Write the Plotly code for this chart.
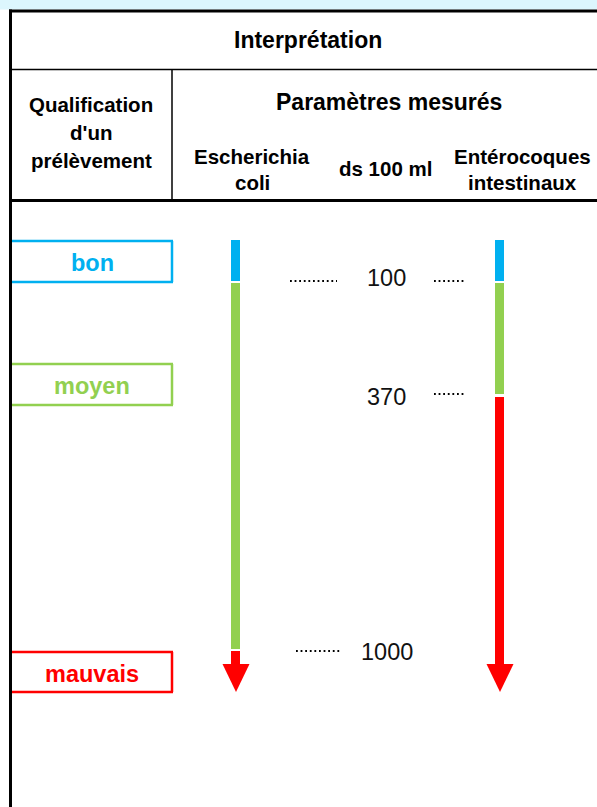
import plotly.graph_objects as go

# ---------------- data ----------------
title = "Interprétation"
left_header = ["Qualification", "d'un", "prélèvement"]
params_header = "Paramètres mesurés"
param_names = [["Escherichia", "coli"], ["Entérocoques", "intestinaux"]]
unit_label = "ds 100 ml"
qualifications = ["bon", "moyen", "mauvais"]
thresholds = ["100", "370", "1000"]
# category of each segment per parameter (top to bottom)
ecoli_segments = ["bon", "moyen", "mauvais"]
entero_segments = ["bon", "moyen", "mauvais"]

# ---------------- layout constants (pixel space) ----------------
W, H = 597, 807
colors = {"bon": "#00b0f0", "moyen": "#92d050", "mauvais": "#ff0000"}
FONT = "Liberation Sans, Arial, sans-serif"

box_y = {"bon": (241, 282), "moyen": (364, 405), "mauvais": (652, 692)}
ecoli_seg_y = [(240, 281), (283, 649), (651, 666)]
entero_seg_y = [(240, 281), (283, 394), (397, 666)]
bar_x = {"ecoli": (231, 240), "entero": (495, 504)}
arrow_tip = 692
arrow_half = 13.5
arrow_top = 664
thr_text_y = [278, 397, 652]
thr_text_x = [386, 386, 387]
dots = [[(290, 337, 281), (434, 464, 281)], [(434, 466, 394)], [(296, 342, 651)]]

fig = go.Figure()
shapes = []
ann = []

# top patterned strip
shapes.append(dict(type="rect", x0=0, x1=W, y0=0, y1=9.5, fillcolor="#dcf6fd",
                   line=dict(width=0), layer="below"))
# table lines
shapes.append(dict(type="line", x0=9, x1=W, y0=11, y1=11, line=dict(color="black", width=3)))
shapes.append(dict(type="line", x0=10.5, x1=10.5, y0=9.5, y1=H, line=dict(color="black", width=3)))
shapes.append(dict(type="line", x0=10, x1=W, y0=69.5, y1=69.5, line=dict(color="black", width=1.5)))
shapes.append(dict(type="line", x0=172, x1=172, y0=70, y1=200, line=dict(color="black", width=1.5)))
shapes.append(dict(type="line", x0=10, x1=W, y0=200.5, y1=200.5, line=dict(color="black", width=3)))

# header texts
def txt(x, y, s, size, bold=True, color="black"):
    ann.append(dict(x=x, y=y, xref="x", yref="y", text=f"<b>{s}</b>" if bold else s,
                    showarrow=False, font=dict(family=FONT, size=size, color=color),
                    xanchor="center", yanchor="middle"))

txt(308, 40, title, 23)
for i, line in enumerate(left_header):
    txt(91, 104.5 + i * 28, line, 20.5)
txt(389, 102, params_header, 23)
txt(252, 156, param_names[0][0], 20.5)
txt(252, 182, param_names[0][1], 20.5)
txt(385, 168, unit_label, 20.5)
txt(522, 156, param_names[1][0], 20.5)
txt(522, 182, param_names[1][1], 20.5)

# qualification boxes
for q in qualifications:
    y0, y1 = box_y[q]
    c = colors[q]
    shapes.append(dict(type="line", x0=12, x1=173, y0=y0, y1=y0, line=dict(color=c, width=2.5)))
    shapes.append(dict(type="line", x0=12, x1=173, y0=y1, y1=y1, line=dict(color=c, width=2.5)))
    shapes.append(dict(type="line", x0=172, x1=172, y0=y0, y1=y1, line=dict(color=c, width=2.5)))
    txt(92, (y0 + y1) / 2 + 1.5, q, 23.5, color=c)

# bars
for key, segs, ys in [("ecoli", ecoli_segments, ecoli_seg_y), ("entero", entero_segments, entero_seg_y)]:
    x0, x1 = bar_x[key]
    for s, (y0, y1) in zip(segs, ys):
        fig.add_trace(go.Scatter(x=[x0, x1, x1, x0, x0], y=[y0, y0, y1, y1, y0], fill="toself",
                                 fillcolor=colors[s], line=dict(width=0), mode="lines",
                                 hoverinfo="skip", showlegend=False))
    xc = (x0 + x1) / 2 + 0.5
    fig.add_trace(go.Scatter(x=[xc - arrow_half, xc + arrow_half, xc, xc - arrow_half],
                             y=[arrow_top, arrow_top, arrow_tip, arrow_top], fill="toself",
                             fillcolor=colors["mauvais"], line=dict(width=0), mode="lines",
                             hoverinfo="skip", showlegend=False))

# thresholds
for t, x, y, dl in zip(thresholds, thr_text_x, thr_text_y, dots):
    txt(x, y, t, 23.5, bold=False, color="#111111")
    for (a, b, yy) in dl:
        shapes.append(dict(type="line", x0=a, x1=b, y0=yy, y1=yy,
                           line=dict(color="black", width=1.8, dash="1.8px,2.8px")))

fig.update_layout(
    width=W, height=H, margin=dict(l=0, r=0, t=0, b=0),
    paper_bgcolor="white", plot_bgcolor="white",
    xaxis=dict(range=[0, W], visible=False, fixedrange=True),
    yaxis=dict(range=[H, 0], visible=False, fixedrange=True),
    shapes=shapes, annotations=ann, showlegend=False,
)
fig.write_html("out.html", config={"displayModeBar": False},
               post_script="document.body.style.margin='0';document.body.style.overflow='hidden';")
